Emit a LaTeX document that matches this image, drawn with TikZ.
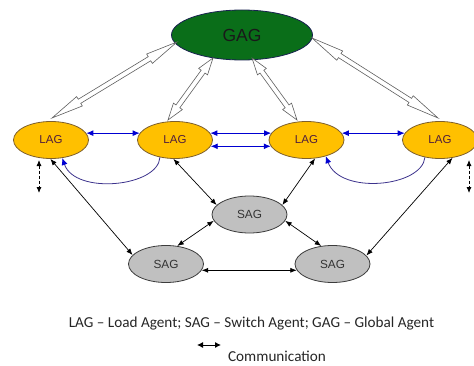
\documentclass[tikz,border=0pt]{standalone}
\usepackage{fontspec}
\setmainfont{Liberation Sans}
\newfontfamily\legendfont{Carlito}
\usetikzlibrary{shapes.geometric,arrows.meta,calc}
\definecolor{gagfill}{RGB}{10,110,25}
\definecolor{gagborder}{RGB}{25,35,80}
\definecolor{lagfill}{RGB}{255,192,0}
\definecolor{lagborder}{RGB}{125,95,45}
\definecolor{lagtext}{RGB}{80,30,60}
\definecolor{sagfill}{RGB}{192,192,192}
\definecolor{sagborder}{RGB}{60,60,60}
\definecolor{arrblue}{RGB}{0,0,210}
\definecolor{arccol}{RGB}{60,50,140}
\definecolor{boltgray}{RGB}{95,95,95}
\newcommand\hollowbolt[2]{%
  \path let \p1=(#1), \p2=(#2), \n1={atan2(\y2-\y1,\x2-\x1)}, \n2={veclen(\x2-\x1,\y2-\y1)} in
    \pgfextra{\xdef\boltang{\n1}\xdef\boltlen{\n2}};
  \draw[boltstyle, shift={(#1)}, rotate=\boltang]
    (0,0) -- (0.22*\boltlen,5.5) -- (0.22*\boltlen,2.4) -- (0.78*\boltlen,2.4)
    -- (0.78*\boltlen,5.5) -- (\boltlen,0) -- (0.78*\boltlen,-5.5) -- (0.78*\boltlen,-2.4)
    -- (0.22*\boltlen,-2.4) -- (0.22*\boltlen,-5.5) -- cycle;
}
\begin{document}
\begin{tikzpicture}[x=1pt,y=1pt,
  gagnode/.style={ellipse, draw=gagborder, fill=gagfill, line width=0.8pt,
    minimum width=141pt, minimum height=50pt, inner sep=0pt,
    font=\fontsize{17.5}{18}\selectfont, text=black!90},
  lagnode/.style={ellipse, draw=lagborder, fill=lagfill, line width=0.8pt,
    minimum width=75pt, minimum height=37pt, inner sep=0pt,
    font=\fontsize{11.5}{12}\selectfont, text=lagtext},
  sagnode/.style={ellipse, draw=sagborder, fill=sagfill, line width=0.8pt,
    minimum width=75pt, minimum height=37pt, inner sep=0pt,
    font=\fontsize{11.8}{12}\selectfont, text=black!80},
  boltstyle/.style={draw=boltgray, fill=white, line width=0.6pt, line join=miter},
  bluearr/.style={draw=arrblue, line width=0.9pt,
    {Latex[length=7pt,width=6pt]}-{Latex[length=7pt,width=6pt]}},
  comm/.style={draw=black, line width=0.7pt,
    {Latex[length=6.5pt,width=5pt]}-{Latex[length=6.5pt,width=5pt]}},
  dashcomm/.style={draw=black, line width=0.8pt, dash pattern=on 3pt off 2pt,
    {Latex[length=6pt,width=5pt]}-{Latex[length=6pt,width=5pt]}},
  arcarr/.style={draw=arccol, line width=0.8pt,
    -{Latex[length=7pt,width=6pt,color=arrblue]}},
  legendtext/.style={font=\legendfont\fontsize{15.2}{16}\selectfont, text=black!85, inner sep=0pt, anchor=base}
]
\useasboundingbox (0,0) rectangle (474,365);

% nodes
\node[gagnode] (gag) at (242,330) {GAG};
\node[lagnode] (lag1) at (51,225) {LAG};
\node[lagnode] (lag2) at (175,225) {LAG};
\node[lagnode] (lag3) at (306.5,225) {LAG};
\node[lagnode] (lag4) at (440,225) {LAG};
\node[sagnode] (sagt) at (249.5,150.5) {SAG};
\node[sagnode] (sagl) at (166,101) {SAG};
\node[sagnode] (sagr) at (332.5,101) {SAG};

% hollow arrows GAG - LAG
\coordinate (b1a) at (52,247);  \coordinate (b1b) at (177,323);
\coordinate (b2a) at (168,245); \coordinate (b2b) at (213,307);
\coordinate (b3a) at (297,245); \coordinate (b3b) at (252,307);
\coordinate (b4a) at (438,247); \coordinate (b4b) at (312,327);
\hollowbolt{b1a}{b1b}
\hollowbolt{b2a}{b2b}
\hollowbolt{b3a}{b3b}
\hollowbolt{b4a}{b4b}

% blue LAG - LAG arrows
\draw[bluearr] (lag1.11) -- (lag2.169);
\draw[bluearr] (lag2.11) -- (lag3.169);
\draw[bluearr] (lag2.-10) -- (lag3.190);
\draw[bluearr] (lag3.11) -- (lag4.169);

% arcs
\draw[arcarr] (lag2.229) .. controls (158,178) and (75,170) .. (lag1.-58);
\draw[arcarr] (lag4.229) .. controls (422,178) and (340,170) .. (lag3.-40);

% dashed arrows
\coordinate (d1a) at (39,205); \coordinate (d1b) at (39,172);
\coordinate (d2a) at (469,205); \coordinate (d2b) at (469,172);
\draw[dashcomm] (d1a) -- (d1b);
\draw[dashcomm] (d2a) -- (d2b);

% black communication arrows
\draw[comm] (lag1.-92) -- (sagl.165);
\draw[comm] (lag2.-95) -- (sagt.164);
\draw[comm] (lag3.-65) -- (sagt.16);
\draw[comm] (lag4.-55) -- (sagr.14);
\draw[comm] (sagt.190) -- (sagl.58);
\draw[comm] (sagt.-10) -- (sagr.122);
\draw[comm] (sagl.-10) -- (sagr.190);

% legend
\node[legendtext] (leg) at (251.5,38) {LAG – Load Agent; SAG – Switch Agent; GAG – Global Agent};
\coordinate (la) at (197,20); \coordinate (lb) at (221,20);
\draw[draw=black, line width=0.9pt, {Latex[length=6pt,width=6pt]}-{Latex[length=6pt,width=6pt]}] (la) -- (lb);
\node[legendtext] (comlabel) at (277,4) {Communication};
\end{tikzpicture}
\end{document}
